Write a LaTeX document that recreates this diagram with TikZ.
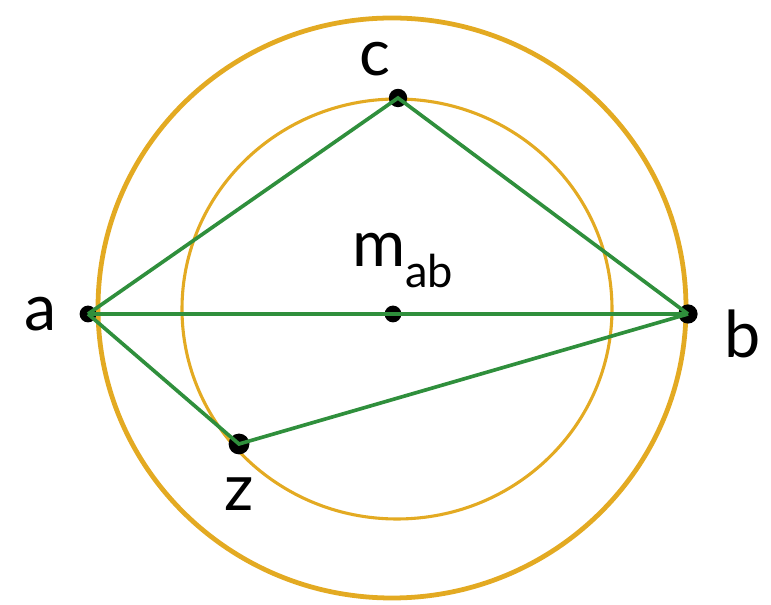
\documentclass[tikz,border=0pt]{standalone}
\usepackage{fontspec}
\setmainfont{Lato}
\usepackage{xcolor}
\usetikzlibrary{positioning}
\definecolor{ring-gold}{HTML}{E3AA22}
\definecolor{edge-green}{HTML}{2F8F3C}

\begin{document}
\begin{tikzpicture}[
        every node/.style={font=\fontsize{46}{46}\selectfont},
        pt/.style={circle, fill=black, inner sep=0pt, minimum size=0.32cm},
        edge/.style={draw=edge-green, line width=2.6pt}]
      \useasboundingbox (0,0) rectangle (19.275,15.125);
      % the two circles round m_ab
      \draw[ring-gold, line width=3.4pt] (9.8,7.425) ellipse [x radius=7.35cm, y radius=7.25cm];
      \draw[ring-gold, line width=2.2pt] (9.925,7.4) ellipse [x radius=5.375cm, y radius=5.25cm];
      % points
      \node[pt, minimum width=0.3cm, minimum height=0.42cm] (a) at (2.2,7.275) {};
      \node[pt, minimum width=0.36cm, minimum height=0.48cm] (b) at (17.2,7.275) {};
      \node[pt, minimum width=0.36cm, minimum height=0.46cm] (c) at (9.95,12.675) {};
      \node[pt, minimum size=0.52cm] (z) at (5.975,4.025) {};
      \node[pt, minimum width=0.34cm, minimum height=0.42cm] (m) at (9.825,7.275) {};
      % edges
      \draw[edge] (a.center) -- (b.center);
      \draw[edge] (a.center) -- (c.center) -- (b.center);
      \draw[edge] (a.center) -- (z.center) -- (b.center);
      % labels
      \node[left=0.45cm of a] (la) {a};
      \node[right=0.55cm of b, yshift=-0.5cm] (lb) {b};
      \node[above left=0.25cm and -0.1cm of c] (lc) {c};
      \node[below=0.45cm of z] (lz) {z};
      \node[above=0.3cm of m, xshift=0.25cm] (lm) {m\textsubscript{ab}};
    \end{tikzpicture}
\end{document}
